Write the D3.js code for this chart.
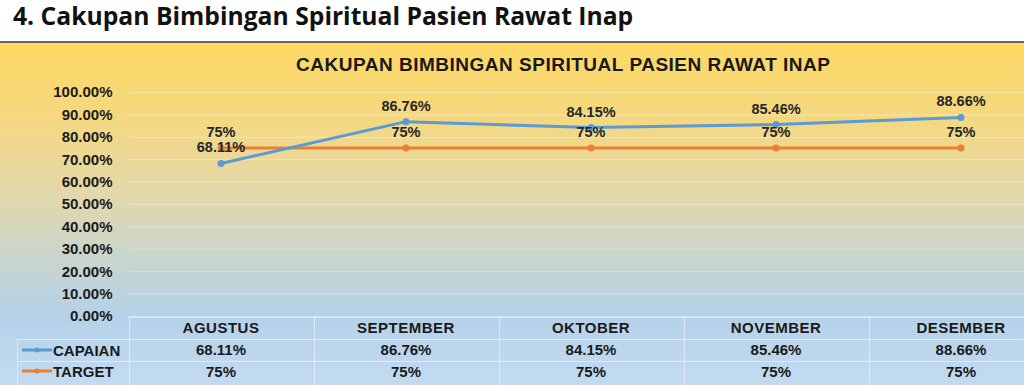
<!DOCTYPE html>
<html><head><meta charset="utf-8">
<script src="https://cdn.jsdelivr.net/npm/d3@7"></script>
<style>
html,body{margin:0;padding:0;background:#fff;overflow:hidden;}
svg{display:block;}
</style></head>
<body>
<script>
const pageTitle = "4. Cakupan Bimbingan Spiritual Pasien Rawat Inap";
const chartTitle = "CAKUPAN BIMBINGAN SPIRITUAL PASIEN RAWAT INAP";
const categories = ["AGUSTUS","SEPTEMBER","OKTOBER","NOVEMBER","DESEMBER"];
const capaian = [0.6811,0.8676,0.8415,0.8546,0.8866];
const capaianLabels = ["68.11%","86.76%","84.15%","85.46%","88.66%"];
const target = [0.75,0.75,0.75,0.75,0.75];
const targetLabels = ["75%","75%","75%","75%","75%"];
const yTicks = [0,0.1,0.2,0.3,0.4,0.5,0.6,0.7,0.8,0.9,1.0];
const seriesNames = ["CAPAIAN","TARGET"];

const W=1024,H=385;
const blue="#5b9bd5", orange="#ed7d31";
const FONT="'Liberation Sans', Arial, sans-serif";

const svg=d3.select("body").append("svg").attr("width",W).attr("height",H);
const defs=svg.append("defs");
const grad=defs.append("linearGradient").attr("id","bg").attr("x1",0).attr("y1",0).attr("x2",0).attr("y2",1);
[[0,"#fed864"],[0.22,"#f5d880"],[0.45,"#e2d8ac"],[0.62,"#cad6cc"],[0.8,"#b5d1e9"],[1,"#c3dbf1"]]
  .forEach(([o,c])=>grad.append("stop").attr("offset",o).attr("stop-color",c));

svg.append("text").attr("x",13).attr("y",25)
  .attr("font-family","'Open Sans', 'Noto Sans', sans-serif").attr("font-weight",700)
  .attr("font-size",24.7).attr("fill","#111").text(pageTitle);

svg.append("rect").attr("x",0).attr("y",42).attr("width",W).attr("height",H-42).attr("fill","url(#bg)");
svg.append("line").attr("x1",0).attr("x2",W).attr("y1",42).attr("y2",42).attr("stroke","#6f6850").attr("stroke-width",2);

svg.append("text").attr("x",563).attr("y",71).attr("text-anchor","middle")
  .attr("font-family",FONT).attr("font-weight",700).attr("font-size",19).attr("fill","#1a1a1a")
  .attr("textLength",534).attr("lengthAdjust","spacing").text(chartTitle);

const x=d3.scaleBand().domain(categories).range([128.5,1053.5]);
const y=d3.scaleLinear().domain([0,1]).range([316,92]);
const cx=d=>x(d)+x.bandwidth()/2;

// gridlines + y axis
const yAxis=d3.axisLeft(y).tickValues(yTicks).tickFormat(d3.format(".2%")).tickSize(-(W-128.5)).tickPadding(16);
const ga=svg.append("g").attr("transform","translate(128.5,0)").call(yAxis);
ga.select(".domain").remove();
ga.selectAll(".tick line").attr("stroke","#ffffff").attr("stroke-opacity",0.35).attr("stroke-width",1);
ga.selectAll(".tick text").attr("font-family",FONT).attr("font-weight",700).attr("font-size",15).attr("fill","#1a1a1a");

// data table
const rowY=[317,339,361,383];
const tbl=svg.append("g").attr("stroke","#ffffff").attr("stroke-opacity",0.5).attr("stroke-width",1);
tbl.append("line").attr("x1",128.5).attr("x2",W).attr("y1",rowY[0]+0.5).attr("y2",rowY[0]+0.5);
tbl.append("line").attr("x1",17.5).attr("x2",W).attr("y1",rowY[1]+0.5).attr("y2",rowY[1]+0.5);
tbl.append("line").attr("x1",17.5).attr("x2",W).attr("y1",rowY[2]+0.5).attr("y2",rowY[2]+0.5);
tbl.append("line").attr("x1",17.5).attr("x2",17.5).attr("y1",rowY[1]).attr("y2",H);
categories.forEach(c=>{
  tbl.append("line").attr("x1",Math.round(x(c))+0.5).attr("x2",Math.round(x(c))+0.5).attr("y1",rowY[0]).attr("y2",H);
});
const tt=svg.append("g").attr("font-family",FONT).attr("font-weight",700).attr("font-size",15).attr("fill","#1a1a1a").attr("text-anchor","middle");
tt.selectAll(".cat").data(categories).join("text").attr("x",d=>cx(d)).attr("y",333).attr("letter-spacing",0.5).text(d=>d);
tt.selectAll(".cap").data(categories).join("text").attr("x",d=>cx(d)).attr("y",355).text((d,i)=>capaianLabels[i]);
tt.selectAll(".tar").data(categories).join("text").attr("x",d=>cx(d)).attr("y",377).text((d,i)=>targetLabels[i]);

// legend keys
[[blue,350,seriesNames[0]],[orange,371,seriesNames[1]]].forEach(([col,yy,name])=>{
  svg.append("line").attr("x1",22).attr("x2",52).attr("y1",yy).attr("y2",yy).attr("stroke",col).attr("stroke-width",3);
  svg.append("circle").attr("cx",37).attr("cy",yy).attr("r",2.5).attr("fill",col);
  svg.append("text").attr("x",53).attr("y",yy+5.5).attr("font-family",FONT).attr("font-weight",700)
    .attr("font-size",15).attr("fill","#1a1a1a").text(name);
});

// lines
const line=d3.line().x((d,i)=>cx(categories[i])).y(d=>y(d));
svg.append("path").datum(target).attr("d",line).attr("fill","none").attr("stroke",orange).attr("stroke-width",3).attr("stroke-linejoin","round");
svg.append("path").datum(capaian).attr("d",line).attr("fill","none").attr("stroke",blue).attr("stroke-width",3).attr("stroke-linejoin","round");
svg.selectAll(".tp").data(target).join("circle").attr("cx",(d,i)=>cx(categories[i])).attr("cy",d=>y(d)).attr("r",3.5).attr("fill",orange);
svg.selectAll(".cp").data(capaian).join("circle").attr("cx",(d,i)=>cx(categories[i])).attr("cy",d=>y(d)).attr("r",3.5).attr("fill",blue);

// data labels
const dl=svg.append("g").attr("font-family",FONT).attr("font-weight",700).attr("font-size",14.5).attr("fill","#262626").attr("text-anchor","middle");
dl.selectAll(".tl").data(target).join("text").attr("x",(d,i)=>cx(categories[i])).attr("y",d=>y(d)-16+5).text((d,i)=>targetLabels[i]);
dl.selectAll(".cl").data(capaian).join("text").attr("x",(d,i)=>cx(categories[i])).attr("y",d=>y(d)-16+5).text((d,i)=>capaianLabels[i]);
</script>
</body></html>
